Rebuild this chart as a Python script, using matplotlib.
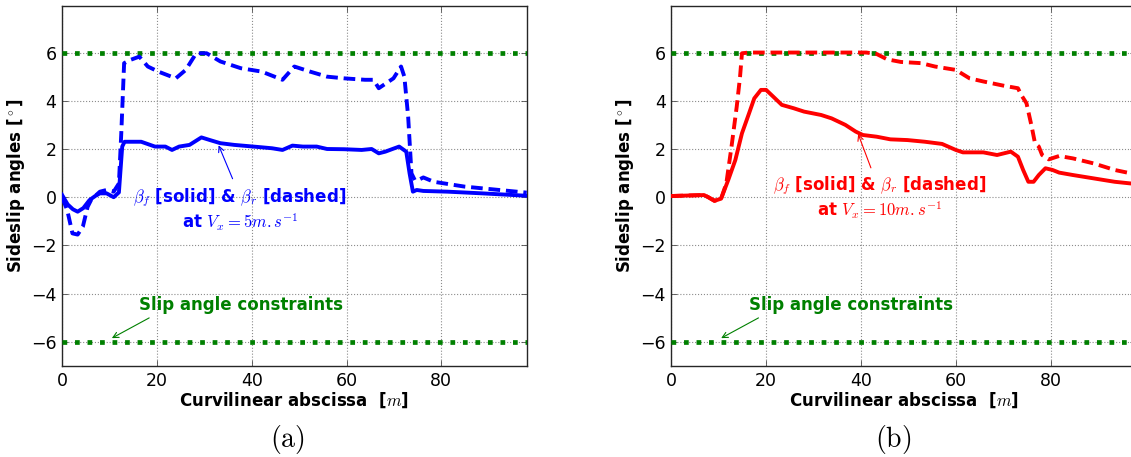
import numpy as np
import matplotlib
matplotlib.use("Agg")
import matplotlib.pyplot as plt

plt.rcParams['mathtext.fontset'] = 'cm'
plt.rcParams['font.family'] = ['DejaVu Sans']

# ---- panel (a): Vx = 5 m/s ----
xa_front = [0, 1.2, 2.3, 3.3, 4.5, 5.8, 7.0, 8.0, 9.4, 10.9, 12.0, 12.7, 13.2, 14.5, 16.7,
            19.6, 21.8, 23.2, 24.7, 26.9, 29.4, 31.2, 33.4, 36.3, 39.2, 42.1, 44.3, 46.5,
            48.6, 50.8, 53.7, 55.9, 59.5, 63.2, 65.3, 66.8, 68.2, 69.7, 71.1, 72.6, 73.3,
            74.0, 74.8, 76.2, 81.3, 88.6, 98.0]
ya_front = [0.1, -0.3, -0.5, -0.6, -0.45, -0.12, 0.05, 0.16, 0.16, 0.0, 0.2, 2.1, 2.3, 2.3, 2.3,
            2.1, 2.1, 1.96, 2.1, 2.17, 2.48, 2.37, 2.24, 2.17, 2.12, 2.07, 2.03, 1.96,
            2.14, 2.1, 2.1, 2.0, 1.99, 1.96, 2.0, 1.82, 1.89, 2.0, 2.1, 1.89, 0.99,
            0.23, 0.3, 0.26, 0.23, 0.16, 0.06]

xa_rear = [0, 1.1, 2.2, 3.3, 4.4, 5.4, 6.2, 8.0, 9.4, 10.9, 12.0, 12.5, 13.1, 14.5, 16.3,
           18.1, 20.3, 24.0, 26.1, 28.3, 30.5, 33.4, 37.7, 42.1, 46.5, 49.0, 52.3, 55.9,
           59.5, 63.9, 65.7, 66.8, 69.9, 71.5, 72.2, 73.0, 73.7, 74.4, 75.1, 76.2, 78.4,
           84.9, 92.2, 98.0]
ya_rear = [0.0, -0.53, -1.5, -1.55, -1.22, -0.4, -0.09, 0.23, 0.3, 0.23, 0.57, 2.65, 5.56, 5.7, 5.83,
           5.42, 5.21, 4.93, 5.28, 5.97, 5.97, 5.63, 5.35, 5.21, 4.87, 5.42, 5.21, 5.0,
           4.93, 4.87, 4.87, 4.52, 4.93, 5.42, 5.0, 3.34, 0.99, 0.71, 0.71, 0.82, 0.64,
           0.44, 0.3, 0.19]

# ---- panel (b): Vx = 10 m/s ----
xb_front = [0, 6.9, 7.8, 9.1, 10.5, 12.0, 13.5, 14.9, 16.4, 17.5, 18.9, 20.0, 21.5, 23.3,
            25.8, 28.0, 31.6, 33.8, 36.7, 38.9, 40.4, 43.3, 46.2, 49.8, 53.5, 57.1, 60.0,
            61.5, 65.8, 68.7, 71.6, 73.1, 74.2, 75.3, 76.4, 77.5, 78.9, 80.4, 81.8, 84.7,
            89.1, 93.5, 96.9, 98.0]
yb_front = [0.05, 0.09, 0.0, -0.15, -0.06, 0.71, 1.54, 2.65, 3.48, 4.1, 4.45, 4.45, 4.17, 3.83,
            3.69, 3.55, 3.41, 3.27, 3.0, 2.72, 2.58, 2.51, 2.4, 2.37, 2.3, 2.21, 1.96,
            1.86, 1.86, 1.75, 1.89, 1.68, 1.13, 0.64, 0.64, 0.92, 1.2, 1.13, 1.02, 0.92,
            0.78, 0.64, 0.57, 0.55]

xb_rear = [0, 6.9, 7.8, 9.1, 10.5, 11.6, 12.7, 13.8, 14.5, 14.9, 16.4, 26.5, 41.1, 43.3,
           45.5, 48.4, 52.7, 55.6, 60.0, 62.9, 65.8, 70.2, 73.1, 73.8, 74.9, 76.0, 76.7,
           77.5, 78.2, 79.6, 81.8, 84.7, 89.1, 93.5, 96.9, 98.0]
yb_rear = [0.05, 0.09, 0.0, -0.15, -0.06, 0.57, 2.1, 3.76, 5.0, 5.97, 6.0, 6.0, 6.0, 5.94,
           5.72, 5.61, 5.56, 5.42, 5.28, 4.93, 4.8, 4.62, 4.52, 4.24, 3.9, 2.93, 2.24,
           2.1, 1.75, 1.57, 1.71, 1.61, 1.4, 1.13, 0.99, 0.96]

constraint = 6.0
xticks = [0, 20, 40, 60, 80]
yticks = [-6, -4, -2, 0, 2, 4, 6]

green = (0, 0.5, 0)

W, H = 1131, 457
fig = plt.figure(figsize=(W / 100, H / 100), dpi=100)


def make_panel(left_px, xf, yf, xr, yr, color, speed, txt_xy, arr_head, arr_tail, tag, tag_x):
    ax = fig.add_axes([left_px / W, 91 / H, 464.7 / W, 360 / H])
    ax.axhline(constraint, color=green, lw=3.4, dashes=(1, 1.65), zorder=3)
    ax.axhline(-constraint, color=green, lw=3.4, dashes=(1, 1.65), zorder=3)
    ax.plot(xr, yr, color=color, lw=2.8, dashes=(3, 1.5), zorder=4)
    ax.plot(xf, yf, color=color, lw=2.8, zorder=5)

    ax.set_xlim(0, 98)
    ax.set_ylim(-7, 7.93)
    ax.set_xticks(xticks)
    ax.set_yticks(yticks)
    ax.grid(True, color='0.55', linestyle=':', lw=0.8)
    ax.tick_params(direction='in', top=True, right=True, length=4, width=0.6,
                   labelsize=12.5, pad=4, color='0.3')
    for s in ax.spines.values():
        s.set_linewidth(1.0)
        s.set_color('0.15')
    ax.set_xlabel(r'Curvilinear abscissa  [$m$]', fontsize=12, fontweight='bold', labelpad=1)
    ax.set_ylabel(r'Sideslip angles [$^\circ$]', fontsize=12, fontweight='bold', labelpad=3)

    # curve annotation
    ax.text(txt_xy[0], txt_xy[1], r'$\beta_f$ [solid] & $\beta_r$ [dashed]',
            color=color, fontsize=12, fontweight='bold', ha='center', va='center', zorder=6)
    ax.text(txt_xy[0], txt_xy[1] - 1.05, r'at $V_x=%dm.s^{-1}$' % speed,
            color=color, fontsize=12, fontweight='bold', ha='center', va='center', zorder=6)
    ax.annotate('', xy=arr_head, xytext=arr_tail,
                arrowprops=dict(arrowstyle='->', color=color, lw=0.8), zorder=6)

    # constraint annotation
    ax.text(37.8, -4.45, 'Slip angle constraints', color=green, fontsize=12,
            fontweight='bold', ha='center', va='center', zorder=6)
    ax.annotate('', xy=(10.0, -5.9), xytext=(18.9, -4.95),
                arrowprops=dict(arrowstyle='->', color=green, lw=0.8), zorder=6)

    fig.text(tag_x / W, 1 - 439 / H, r'$\mathrm{(%s)}$' % tag, fontsize=20,
             ha='center', va='center')
    return ax


make_panel(62, xa_front, ya_front, xa_rear, ya_rear, 'b', 5,
           (37.5, 0.0), (32.8, 2.26), (36.2, 0.66), 'a', 287)
make_panel(671.3, xb_front, yb_front, xb_rear, yb_rear, 'r', 10,
           (43.9, 0.5), (39.2, 2.73), (42.3, 1.11), 'b', 893)

fig.savefig('out.png', dpi=100)
